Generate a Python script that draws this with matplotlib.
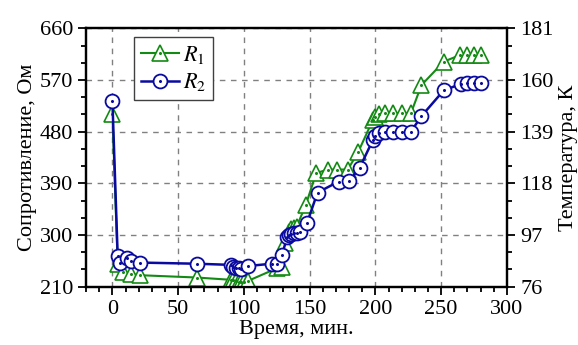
import matplotlib
matplotlib.use('Agg')
import matplotlib.pyplot as plt
import numpy as np
from matplotlib.ticker import MultipleLocator

plt.rcParams['font.family'] = ['Liberation Serif', 'DejaVu Serif']
plt.rcParams['mathtext.fontset'] = 'stix'

# -------------------------- Data --------------------------
t1 = [0, 4, 8, 14, 21, 64, 90, 92, 94, 96, 98, 100, 103, 125, 129, 131,
      134, 136, 138, 140, 147, 155, 164, 171, 179, 187, 198, 200, 203, 207,
      213, 220, 227, 235, 252, 264, 270, 275, 280]
r1 = [510, 250, 236, 232, 230, 226, 222, 221, 220, 219, 219, 219, 220, 242,
      245, 286, 305, 310, 313, 314, 352, 408, 414, 414, 414, 445, 500, 505,
      510, 512, 512, 512, 512, 561, 602, 613, 613, 613, 613]

t2 = [0, 4, 6, 11, 14, 21, 64, 90, 92, 94, 96, 98, 103, 121, 125, 129, 133,
      134, 136, 138, 140, 143, 148, 156, 172, 180, 188, 198, 200, 203, 207,
      213, 220, 227, 235, 252, 265, 270, 275, 280]
r2 = [533, 264, 252, 260, 255, 252, 250, 248, 245, 243, 242, 241, 246, 250,
      250, 266, 297, 300, 302, 303, 304, 306, 321, 374, 393, 394, 417, 465,
      472, 477, 479, 480, 480, 480, 507, 552, 563, 564, 564, 564]

res_ticks = [210, 300, 390, 480, 570, 660]
temp_ticks = [76, 97, 118, 139, 160, 181]

green = '#138a13'
blue = '#0a0aa0'

# -------------------------- Plotting --------------------------
fig = plt.figure(figsize=(5.78, 3.45), dpi=100)
ax = fig.add_axes([0.149, 0.169, 0.728, 0.749])

l1, = ax.plot(t1, r1, color=green, lw=1.5, marker='^', ms=11.5,
              mfc='white', mec=green, mew=1.2, zorder=3)
d1, = ax.plot(t1, r1, ls='none', marker='o', ms=1.2, color=green, zorder=4)
l2, = ax.plot(t2, r2, color=blue, lw=1.8, marker='o', ms=10,
              mfc='white', mec=blue, mew=1.3, zorder=5)
d2, = ax.plot(t2, r2, ls='none', marker='o', ms=1.2, color=blue, zorder=6)

ax.set_xlim(-20, 300)
ax.set_ylim(res_ticks[0], res_ticks[-1])
ax.xaxis.set_major_locator(MultipleLocator(50))
ax.xaxis.set_minor_locator(MultipleLocator(10))
ax.set_yticks(res_ticks)
ax.set_yticks(np.arange(res_ticks[0], res_ticks[-1] + 1, 30), minor=True)
ax.grid(True, which='major', linestyle=(0, (4, 4)), color='#808080', lw=1.0)
ax.set_axisbelow(True)
ax.tick_params(which='both', direction='out', labelsize=16, width=1.3)
ax.tick_params(which='major', length=6)
ax.tick_params(which='minor', length=3.5)
ax.set_xlabel('Время, мин.', fontsize=16, labelpad=1)
ax.set_ylabel('Сопротивление, Ом', fontsize=16, labelpad=2)
for s in ax.spines.values():
    s.set_linewidth(1.6)

ax2 = ax.twinx()
ax2.set_ylim(temp_ticks[0], temp_ticks[-1])
ax2.set_yticks(temp_ticks)
ax2.set_yticks(np.arange(temp_ticks[0], temp_ticks[-1] + 1, 7), minor=True)
ax2.tick_params(which='both', direction='out', labelsize=16, width=1.3)
ax2.tick_params(which='major', length=6)
ax2.tick_params(which='minor', length=3.5)
ax2.set_ylabel('Температура, К', fontsize=16, labelpad=4)
for s in ax2.spines.values():
    s.set_linewidth(1.6)

leg = ax.legend([(l1, d1), (l2, d2)], ['$R_1$', '$R_2$'], loc='upper left',
                bbox_to_anchor=(0.114, 0.966), borderaxespad=0, fontsize=16,
                fancybox=False, edgecolor='#404040', framealpha=1,
                handlelength=1.7, handletextpad=0.2, borderpad=0.3,
                labelspacing=0.25)
leg.get_frame().set_linewidth(1.0)

plt.savefig('out.png', dpi=100)
